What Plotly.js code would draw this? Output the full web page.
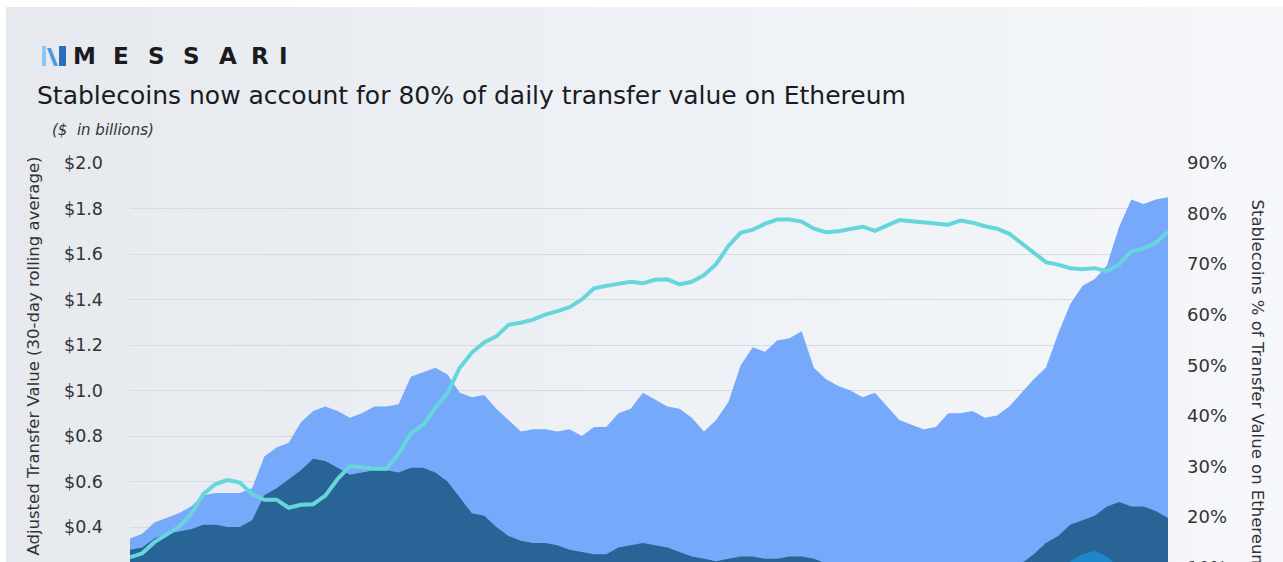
<!DOCTYPE html>
<html>
<head>
<meta charset="utf-8">
<script src="https://cdn.plot.ly/plotly-3.0.1.min.js"></script>
<style>
  html, body { margin: 0; padding: 0; background: #ffffff; overflow: hidden; }
  #myDiv {
    position: absolute; left: 6px; top: 7px;
    width: 1277px; height: 700px;
    background: linear-gradient(to right, #e6e9ee 0%, #eef1f5 55%, #f5f7fa 100%);
  }
</style>
</head>
<body>
<div id="myDiv"></div>
<script>
// -------------------------------------------
// Data (5-day steps)
// -------------------------------------------
function dateSteps(start, n, stepDays) {
  var out = [];
  var t0 = new Date(start + 'T00:00:00Z').getTime();
  for (var i = 0; i < n; i++) {
    out.push(new Date(t0 + i * stepDays * 86400000).toISOString().slice(0, 10));
  }
  return out;
}

var dates = dateSteps('2020-01-01', 86, 5);

// total adjusted transfer value ($bn)
var totalValue = [
  0.35, 0.37, 0.42, 0.44, 0.46, 0.49, 0.54, 0.55, 0.55, 0.55,
  0.57, 0.71, 0.75, 0.77, 0.86, 0.91, 0.93, 0.91, 0.88, 0.90,
  0.93, 0.93, 0.94, 1.06, 1.08, 1.10, 1.07, 0.99, 0.97, 0.98,
  0.92, 0.87, 0.82, 0.83, 0.83, 0.82, 0.83, 0.80, 0.84, 0.84,
  0.90, 0.92, 0.99, 0.96, 0.93, 0.92, 0.88, 0.82, 0.87, 0.95,
  1.11, 1.19, 1.17, 1.22, 1.23, 1.26, 1.10, 1.05, 1.02, 1.00,
  0.97, 0.99, 0.93, 0.87, 0.85, 0.83, 0.84, 0.90, 0.90, 0.91,
  0.88, 0.89, 0.93, 0.99, 1.05, 1.10, 1.25, 1.38, 1.46, 1.49,
  1.55, 1.72, 1.84, 1.82, 1.84, 1.85
];

// ETH transfer value ($bn)
var ethValue = [
  0.30, 0.31, 0.35, 0.37, 0.38, 0.39, 0.41, 0.41, 0.40, 0.40,
  0.43, 0.54, 0.57, 0.61, 0.65, 0.70, 0.69, 0.66, 0.63, 0.64,
  0.65, 0.65, 0.64, 0.66, 0.66, 0.64, 0.60, 0.53, 0.46, 0.45,
  0.40, 0.36, 0.34, 0.33, 0.33, 0.32, 0.30, 0.29, 0.28, 0.28,
  0.31, 0.32, 0.33, 0.32, 0.31, 0.29, 0.27, 0.26, 0.25, 0.26,
  0.27, 0.27, 0.26, 0.26, 0.27, 0.27, 0.26, 0.24, 0.22, 0.21,
  0.20, 0.19, 0.18, 0.17, 0.17, 0.16, 0.16, 0.17, 0.17, 0.18,
  0.19, 0.20, 0.22, 0.24, 0.28, 0.33, 0.36, 0.41, 0.43, 0.45,
  0.49, 0.51, 0.49, 0.49, 0.47, 0.44
];

// other token transfer value ($bn)
var otherValue = [
  0.06, 0.06, 0.07, 0.07, 0.08, 0.08, 0.08, 0.09, 0.09, 0.09,
  0.10, 0.11, 0.11, 0.12, 0.12, 0.12, 0.12, 0.11, 0.11, 0.11,
  0.11, 0.11, 0.12, 0.12, 0.12, 0.12, 0.11, 0.10, 0.10, 0.09,
  0.09, 0.09, 0.08, 0.08, 0.08, 0.08, 0.08, 0.08, 0.08, 0.08,
  0.08, 0.09, 0.09, 0.09, 0.09, 0.08, 0.08, 0.08, 0.08, 0.08,
  0.09, 0.09, 0.09, 0.09, 0.09, 0.09, 0.09, 0.08, 0.08, 0.08,
  0.08, 0.08, 0.08, 0.08, 0.08, 0.08, 0.08, 0.09, 0.09, 0.09,
  0.10, 0.11, 0.13, 0.15, 0.17, 0.19, 0.21, 0.25, 0.28, 0.295,
  0.27, 0.22, 0.18, 0.16, 0.15, 0.14
];

// stablecoins share of transfer value (%)
var stableShare = [
  12.0, 12.8, 15.0, 16.5, 18.0, 20.5, 24.5, 26.5, 27.3, 26.8,
  24.5, 23.4, 23.4, 21.8, 22.4, 22.5, 24.2, 27.5, 30.0, 29.8,
  29.5, 29.5, 32.5, 36.5, 38.2, 41.5, 44.5, 49.5, 52.5, 54.5,
  55.7, 58.0, 58.4, 59.0, 60.0, 60.7, 61.5, 63.0, 65.2, 65.7,
  66.0, 66.5, 66.2, 66.9, 67.0, 66.0, 66.5, 67.8, 70.0, 73.6,
  76.2, 76.8, 78.0, 78.8, 78.8, 78.4, 77.0, 76.3, 76.5, 77.0,
  77.4, 76.6, 77.6, 78.7, 78.5, 78.3, 78.0, 77.8, 78.6, 78.2,
  77.5, 77.0, 76.0, 74.2, 72.4, 70.4, 69.9, 69.2, 69.0, 69.2,
  68.6, 70.0, 72.5, 73.1, 74.2, 76.4
];

var leftTicks = [0, 0.2, 0.4, 0.6, 0.8, 1.0, 1.2, 1.4, 1.6, 1.8, 2.0];
var leftTickText = ['$0.0', '$0.2', '$0.4', '$0.6', '$0.8', '$1.0', '$1.2', '$1.4', '$1.6', '$1.8', '$2.0'];
var rightTicks = [0, 10, 20, 30, 40, 50, 60, 70, 80, 90];
var rightTickText = ['0%', '10%', '20%', '30%', '40%', '50%', '60%', '70%', '80%', '90%'];

// -------------------------------------------
// Page pixel -> paper coords (plot spans x 130..1168, y 163..618)
// -------------------------------------------
const px = x => (x - 130) / 1038;
const py = y => (618 - y) / 455;

var FONT = '"DejaVu Sans", sans-serif';

// -------------------------------------------
// Traces
// -------------------------------------------
var traces = [
  {
    x: dates, y: totalValue, type: 'scatter', mode: 'lines',
    fill: 'tozeroy', fillcolor: '#76a9fa',
    line: {width: 0, color: '#76a9fa'}, hoverinfo: 'skip'
  },
  {
    x: dates, y: ethValue, type: 'scatter', mode: 'lines',
    fill: 'tozeroy', fillcolor: '#286496',
    line: {width: 0, color: '#286496'}, hoverinfo: 'skip'
  },
  {
    x: dates, y: otherValue, type: 'scatter', mode: 'lines',
    fill: 'tozeroy', fillcolor: '#1c87c9',
    line: {width: 0, color: '#1c87c9'}, hoverinfo: 'skip'
  },
  {
    x: dates, y: stableShare, type: 'scatter', mode: 'lines', yaxis: 'y2',
    line: {width: 4, color: '#66d6dc'}, hoverinfo: 'skip'
  }
];

// Messari wordmark, one letter each
var letters = ['M', 'E', 'S', 'S', 'A', 'R', 'I'];
var letterX = [84, 121, 156, 191, 228, 260, 283];
var annotations = letters.map((ch, i) => ({
  text: '<b>' + ch + '</b>', xref: 'paper', yref: 'paper',
  x: px(letterX[i]), y: py(56), xanchor: 'center', yanchor: 'middle',
  showarrow: false, font: {family: '"DejaVu Sans", sans-serif', size: 23, color: '#1b1b1f'}
}));

annotations.push(
  {
    text: '<i>($  in billions)</i>', xref: 'paper', yref: 'paper',
    x: px(50), y: py(130), xanchor: 'left', yanchor: 'middle', showarrow: false,
    font: {family: FONT, size: 15, color: '#333333'}
  },
  {
    text: 'Adjusted Transfer Value (30-day rolling average)', xref: 'paper', yref: 'paper',
    x: px(33), y: py(155), xanchor: 'center', yanchor: 'top', textangle: -90, showarrow: false,
    font: {family: FONT, size: 16.5, color: '#333333'}
  },
  {
    text: 'Stablecoins % of Transfer Value on Ethereum', xref: 'paper', yref: 'paper',
    x: px(1257), y: py(197), xanchor: 'center', yanchor: 'top', textangle: 90, showarrow: false,
    font: {family: FONT, size: 16.5, color: '#333333'}
  }
);

// little logo mark
var shapes = [
  {type: 'path', xref: 'paper', yref: 'paper', line: {width: 0}, fillcolor: '#8cc6f3',
   path: 'M' + px(42) + ',' + py(46) + ' L' + px(46) + ',' + py(46) + ' L' + px(46) + ',' + py(66) + ' L' + px(42) + ',' + py(66) + ' Z'},
  {type: 'path', xref: 'paper', yref: 'paper', line: {width: 0}, fillcolor: '#4f9be0',
   path: 'M' + px(47) + ',' + py(48) + ' L' + px(51) + ',' + py(48) + ' L' + px(58) + ',' + py(66) + ' L' + px(54) + ',' + py(66) + ' Z'},
  {type: 'path', xref: 'paper', yref: 'paper', line: {width: 0}, fillcolor: '#2a6fbf',
   path: 'M' + px(59) + ',' + py(46) + ' L' + px(66) + ',' + py(46) + ' L' + px(66) + ',' + py(66) + ' L' + px(59) + ',' + py(66) + ' Z'}
];

// -------------------------------------------
// Layout
// -------------------------------------------
var layout = {
  width: 1277,
  height: 700,
  margin: {l: 124, r: 115, t: 156, b: 89},
  paper_bgcolor: 'rgba(0,0,0,0)',
  plot_bgcolor: 'rgba(0,0,0,0)',
  showlegend: false,
  title: {
    text: 'Stablecoins now account for 80% of daily transfer value on Ethereum',
    x: 31 / 1277, xanchor: 'left', xref: 'container',
    y: 1 - 88 / 700, yanchor: 'middle', yref: 'container',
    font: {family: FONT, size: 25, color: '#1b1b1f'}
  },
  xaxis: {
    type: 'date',
    range: [dates[0], dates[dates.length - 1]],
    showgrid: false, zeroline: false, showline: false,
    showticklabels: false, ticks: ''
  },
  yaxis: {
    range: [0, 2.0],
    tickvals: leftTicks, ticktext: leftTickText,
    showgrid: true, gridcolor: '#d8dadd', gridwidth: 1,
    zeroline: false, showline: false,
    ticklabelstandoff: 26,
    tickfont: {family: FONT, size: 17.5, color: '#333333'}
  },
  yaxis2: {
    overlaying: 'y', side: 'right',
    range: [0, 90],
    tickvals: rightTicks, ticktext: rightTickText,
    showgrid: false, zeroline: false, showline: false,
    ticklabelstandoff: 18,
    tickfont: {family: FONT, size: 18, color: '#333333'}
  },
  annotations: annotations,
  shapes: shapes
};

Plotly.newPlot('myDiv', traces, layout, {staticPlot: true});
</script>
</body>
</html>
